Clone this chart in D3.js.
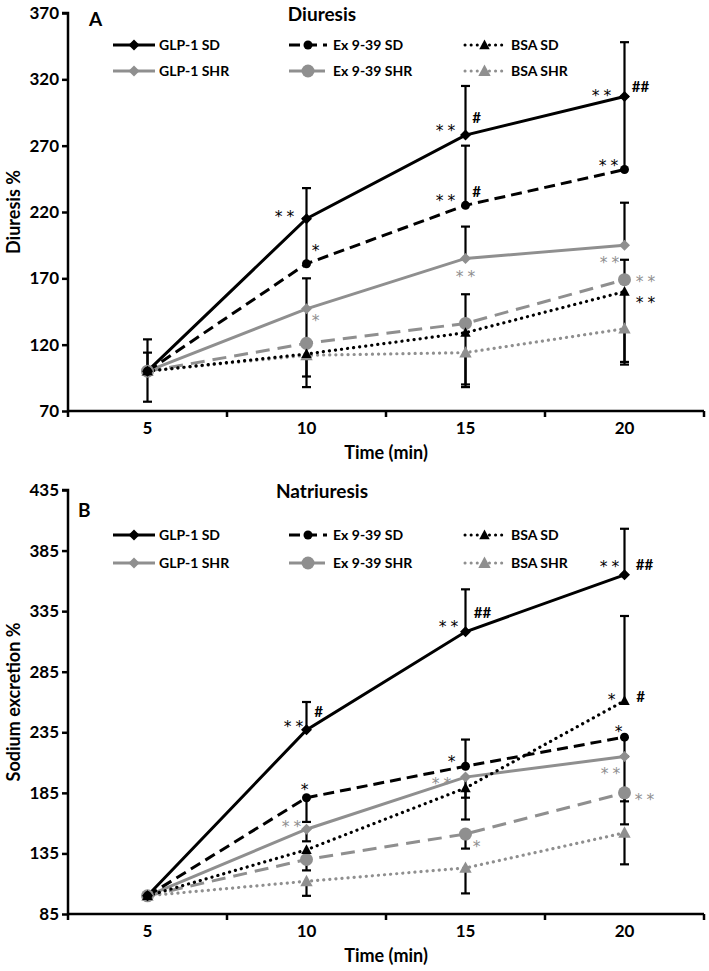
<!DOCTYPE html>
<html>
<head>
<meta charset="utf-8">
<script src="https://cdn.jsdelivr.net/npm/d3@7"></script>
<style>
  html, body { margin: 0; padding: 0; background: #fff; }
  svg { display: block; font-family: Lato, "Open Sans", sans-serif; font-weight: bold; }
</style>
</head>
<body>
<svg id="chart" width="709" height="971"></svg>
<script>
// ---------- DATA ----------
const times = ["5", "10", "15", "20"];
const seriesNames = ["GLP-1 SD", "Ex 9-39 SD", "BSA SD", "GLP-1 SHR", "Ex 9-39 SHR", "BSA SHR"];

const diuYTicks = [70, 120, 170, 220, 270, 320, 370];
const natYTicks = [85, 135, 185, 235, 285, 335, 385, 435];

// Panel A: Diuresis %
const diuGLP1SD  = [100, 215, 278, 307];
const diuExSD    = [100, 181, 225, 252];
const diuBSASD   = [100, 113, 129, 160];
const diuGLP1SHR = [100, 147, 185, 195];
const diuExSHR   = [100, 121, 136, 169];
const diuBSASHR  = [100, 112, 114, 132];
// error bars (plus / minus)
const diuErrPlus = {
  "GLP-1 SD":   [24, 23, 37, 41],
  "Ex 9-39 SD": [14, 34, 45, 55],
  "BSA SD":     [0, 0, 0, 0],
  "GLP-1 SHR":  [0, 23, 24, 32],
  "Ex 9-39 SHR":[0, 0, 22, 15],
  "BSA SHR":    [0, 0, 0, 0]
};
const diuErrMinus = {
  "GLP-1 SD":   [0, 0, 0, 0],
  "Ex 9-39 SD": [0, 0, 0, 0],
  "BSA SD":     [0, 25, 39, 55],
  "GLP-1 SHR":  [0, 26, 0, 0],
  "Ex 9-39 SHR":[0, 25, 0, 0],
  "BSA SHR":    [23, 0, 26, 25]
};

// Panel B: Sodium excretion %
const natGLP1SD  = [100, 237, 318, 365];
const natExSD    = [100, 181, 207, 231];
const natBSASD   = [100, 138, 189, 261];
const natGLP1SHR = [100, 155, 198, 215];
const natExSHR   = [100, 130, 151, 185];
const natBSASHR  = [100, 112, 123, 152];
const natErrPlus = {
  "GLP-1 SD":   [0, 23, 35, 38],
  "Ex 9-39 SD": [0, 0, 22, 0],
  "BSA SD":     [0, 0, 0, 70],
  "GLP-1 SHR":  [0, 0, 0, 0],
  "Ex 9-39 SHR":[0, 0, 0, 0],
  "BSA SHR":    [0, 0, 0, 0]
};
const natErrMinus = {
  "GLP-1 SD":   [0, 0, 0, 0],
  "Ex 9-39 SD": [0, 20, 0, 16],
  "BSA SD":     [0, 0, 8, 0],
  "GLP-1 SHR":  [0, 10, 35, 56],
  "Ex 9-39 SHR":[0, 9, 12, 7],
  "BSA SHR":    [0, 12, 21, 26]
};

// significance annotations: [series, time, text]
const diuAnnot = [
  ["GLP-1 SD", "10", "**"], ["Ex 9-39 SD", "10", "*"], ["GLP-1 SHR", "10", "*"],
  ["GLP-1 SD", "15", "**"], ["GLP-1 SD", "15", "#"], ["Ex 9-39 SD", "15", "**"], ["Ex 9-39 SD", "15", "#"],
  ["GLP-1 SHR", "15", "**"],
  ["GLP-1 SD", "20", "**"], ["GLP-1 SD", "20", "##"], ["Ex 9-39 SD", "20", "**"],
  ["GLP-1 SHR", "20", "**"], ["Ex 9-39 SHR", "20", "**"], ["BSA SD", "20", "**"]
];
const natAnnot = [
  ["GLP-1 SD", "10", "**"], ["GLP-1 SD", "10", "#"], ["Ex 9-39 SD", "10", "*"], ["GLP-1 SHR", "10", "**"],
  ["GLP-1 SD", "15", "**"], ["GLP-1 SD", "15", "##"], ["Ex 9-39 SD", "15", "*"], ["GLP-1 SHR", "15", "**"],
  ["Ex 9-39 SHR", "15", "*"],
  ["GLP-1 SD", "20", "**"], ["GLP-1 SD", "20", "##"], ["BSA SD", "20", "*"], ["BSA SD", "20", "#"],
  ["Ex 9-39 SD", "20", "*"], ["GLP-1 SHR", "20", "**"], ["Ex 9-39 SHR", "20", "**"]
];

// ---------- LAYOUT / STYLE ----------
const diuAnnotOffsets = [[-22,-6],[11,-17],[11,8],[-20,-8],[11,-17],[-20,-8],[11,-13],[0,15],
  [-23,-5],[16,-10],[-16,-8],[-15,14],[21,-2],[21,7]];
const natAnnotOffsets = [[-13,-7],[12,-18],[0,-12],[-15,-6],[-17,-9],[17,-19],[-12,-8],[-24,3],
  [13,9],[-15,-12],[20,-10],[-11,-5],[16,-4],[-4,-9],[-14,13],[20,3]];

const GRAY = "#8f8f8f";
const styles = {
  "GLP-1 SD":    {color: "#000", dash: null,     shape: "diamond",  size: 11, cap: "butt"},
  "Ex 9-39 SD":  {color: "#000", dash: "11,6",   shape: "circle",   size: 4.5, cap: "butt"},
  "BSA SD":      {color: "#000", dash: "0.1,6",  shape: "triangle", size: 11, cap: "round"},
  "GLP-1 SHR":   {color: GRAY,   dash: null,     shape: "diamond",  size: 11, cap: "butt"},
  "Ex 9-39 SHR": {color: GRAY,   dash: "14,8",   shape: "circle",   size: 6.5, cap: "butt"},
  "BSA SHR":     {color: GRAY,   dash: "0.1,6",  shape: "triangle", size: 13, cap: "round"}
};

const svg = d3.select("#chart");

function drawMarker(g, shape, size, color, x, y) {
  if (shape === "circle") {
    g.append("circle").attr("cx", x).attr("cy", y).attr("r", size).attr("fill", color);
  } else if (shape === "diamond") {
    const h = size / 2;
    g.append("path").attr("d", `M${x},${y-h}L${x+h},${y}L${x},${y+h}L${x-h},${y}Z`).attr("fill", color);
  } else {
    const h = size / 2;
    g.append("path").attr("d", `M${x},${y-h}L${x+h*0.95},${y+h*0.75}L${x-h*0.95},${y+h*0.75}Z`).attr("fill", color);
  }
}

function panel(cfg) {
  const {top, bottom, left, right, domain, ticks, values, errPlus, errMinus, annot, annotOff,
         title, letter, yTitle, legendRows} = cfg;
  const g = svg.append("g");
  const x = d3.scaleBand().domain(times).range([left, right]).padding(0);
  const y = d3.scaleLinear().domain(domain).range([bottom, top]);
  const cx = t => x(t) + x.bandwidth() / 2;

  // axes
  const yAxis = d3.axisLeft(y).tickValues(ticks).tickSize(6).tickPadding(3);
  const ya = g.append("g").attr("transform", `translate(${left},0)`).call(yAxis);
  const xAxis = d3.axisBottom(x).tickSize(0).tickPadding(11);
  const xa = g.append("g").attr("transform", `translate(0,${bottom})`).call(xAxis);
  [ya, xa].forEach(a => {
    a.select(".domain").attr("stroke", "#000").attr("stroke-width", 2.5);
    a.selectAll(".tick line").attr("stroke", "#000").attr("stroke-width", 2.5);
    a.selectAll("text").attr("font-size", 17).attr("font-family", "Lato, sans-serif")
      .attr("font-weight", "bold").attr("fill", "#000");
  });
  ya.select(".domain").attr("d", `M-6,${top}H0V${bottom}`);
  xa.select(".domain").attr("d", `M0,0H${right - left}`).attr("transform", `translate(${left},0)`);
  // x boundary ticks
  const bounds = times.map(t => x(t)).concat([right]);
  xa.selectAll(".bt").data(bounds).enter().append("line")
    .attr("x1", d => d).attr("x2", d => d).attr("y1", 0).attr("y2", 6)
    .attr("stroke", "#000").attr("stroke-width", 2.5);

  // error bars
  const eb = g.append("g");
  seriesNames.forEach((s, si) => {
    values[si].forEach((v, i) => {
      const p = errPlus[s][i], m = errMinus[s][i];
      if (!p && !m) return;
      const x0 = cx(times[i]);
      const hi = v + p, lo = v - m;
      eb.append("line").attr("x1", x0).attr("x2", x0).attr("y1", y(hi)).attr("y2", y(lo))
        .attr("stroke", "#000").attr("stroke-width", 2.2);
      if (p) eb.append("line").attr("x1", x0 - 4.5).attr("x2", x0 + 4.5).attr("y1", y(hi)).attr("y2", y(hi))
        .attr("stroke", "#000").attr("stroke-width", 2.2);
      if (m) eb.append("line").attr("x1", x0 - 4.5).attr("x2", x0 + 4.5).attr("y1", y(lo)).attr("y2", y(lo))
        .attr("stroke", "#000").attr("stroke-width", 2.2);
    });
  });

  // lines (draw gray first, then black)
  const order = [5, 4, 3, 2, 1, 0];
  const line = d3.line().x((d, i) => cx(times[i])).y(d => y(d));
  order.forEach(si => {
    const s = seriesNames[si], st = styles[s];
    g.append("path").attr("d", line(values[si])).attr("fill", "none")
      .attr("stroke", st.color).attr("stroke-width", st.shape === "triangle" ? 3.2 : 3)
      .attr("stroke-dasharray", st.dash).attr("stroke-linecap", st.cap);
  });
  order.forEach(si => {
    const s = seriesNames[si], st = styles[s];
    values[si].forEach((v, i) => drawMarker(g, st.shape, st.size, st.color, cx(times[i]), y(v)));
  });

  // annotations
  annot.forEach((a, k) => {
    const si = seriesNames.indexOf(a[0]);
    const ti = times.indexOf(a[1]);
    const v = values[si][ti];
    const isStar = a[2].indexOf("*") >= 0;
    const col = styles[a[0]].color;
    const t = g.append("text").attr("x", cx(a[1]) + annotOff[k][0] + (isStar && a[2].length > 1 ? 2 : 0))
      .attr("y", y(v) + annotOff[k][1] + (isStar ? 9 : 5))
      .attr("text-anchor", "middle")
      .attr("fill", isStar ? col : "#000")
      .text(a[2]);
    if (isStar) {
      t.attr("font-family", "'DejaVu Sans', sans-serif").attr("font-size", 15.5)
        .attr("font-weight", "normal").attr("letter-spacing", 4);
    } else {
      t.attr("font-size", 15).attr("font-weight", "bold");
    }
  });

  // titles
  g.append("text").attr("x", 322).attr("y", top + 8).attr("text-anchor", "middle")
    .attr("font-size", 19).text(title);
  g.append("text").attr("x", letter[0]).attr("y", letter[1]).attr("font-size", 19).text(letter[2]);
  g.append("text").attr("transform", `translate(20,${(top + bottom) / 2}) rotate(-90)`)
    .attr("text-anchor", "middle").attr("font-size", 18).text(yTitle);
  g.append("text").attr("x", 386).attr("y", bottom + 48).attr("text-anchor", "middle")
    .attr("font-size", 18).text("Time (min)");

  // legend
  const legX = [[113, 155, 159], [289, 327, 333], [465, 504, 511]];
  seriesNames.forEach((s, si) => {
    const col = si % 3, row = Math.floor(si / 3);
    const st = styles[s];
    const ly = legendRows[row];
    const [x1, x2, tx] = legX[col];
    g.append("line").attr("x1", x1).attr("x2", x2).attr("y1", ly).attr("y2", ly)
      .attr("stroke", st.color).attr("stroke-width", 3)
      .attr("stroke-dasharray", st.dash).attr("stroke-linecap", st.cap);
    drawMarker(g, st.shape, st.size, st.color, (x1 + x2) / 2, ly);
    g.append("text").attr("x", tx).attr("y", ly + 5).attr("font-size", 14).text(s);
  });
}

panel({
  top: 13, bottom: 411, left: 68, right: 704, domain: [70, 370], ticks: diuYTicks,
  values: [diuGLP1SD, diuExSD, diuBSASD, diuGLP1SHR, diuExSHR, diuBSASHR],
  errPlus: diuErrPlus, errMinus: diuErrMinus, annot: diuAnnot, annotOff: diuAnnotOffsets,
  title: "Diuresis", letter: [89, 26, "A"], yTitle: "Diuresis %", legendRows: [45, 71]
});
panel({
  top: 490, bottom: 914, left: 68, right: 704, domain: [85, 435], ticks: natYTicks,
  values: [natGLP1SD, natExSD, natBSASD, natGLP1SHR, natExSHR, natBSASHR],
  errPlus: natErrPlus, errMinus: natErrMinus, annot: natAnnot, annotOff: natAnnotOffsets,
  title: "Natriuresis", letter: [78, 517, "B"], yTitle: "Sodium excretion %", legendRows: [535, 563]
});
</script>
</body>
</html>
